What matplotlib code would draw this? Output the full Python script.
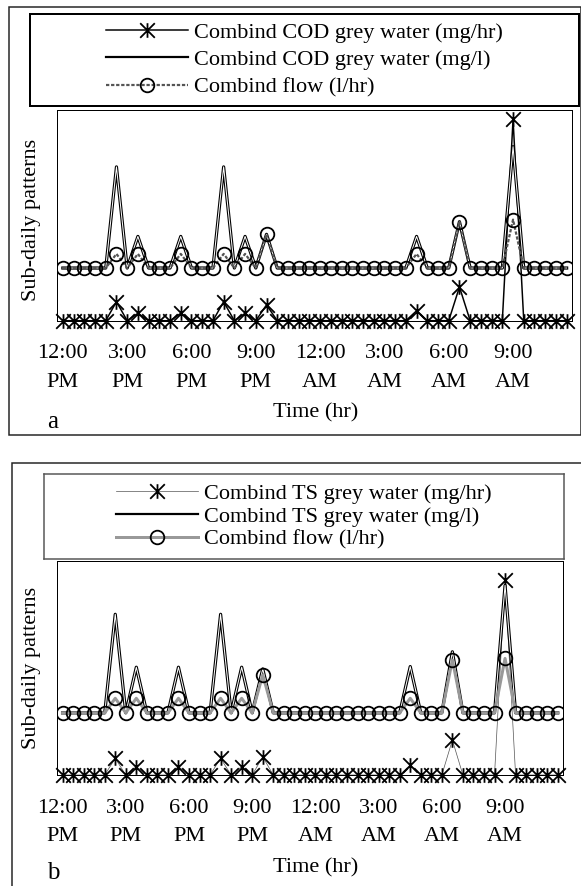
import matplotlib
matplotlib.use("Agg")
import matplotlib.pyplot as plt
from matplotlib.path import Path
from matplotlib.lines import Line2D
from matplotlib.patches import Rectangle

plt.rcParams['font.family'] = ['Liberation Serif', 'DejaVu Serif']

W, H, DPI = 581, 886, 100

# half-hour slots over one day, starting at noon
slots = list(range(48))
tick_idx = [0, 6, 12, 18, 24, 30, 36, 42]
tick_labels = ['12:00\nPM', '3:00\nPM', '6:00\nPM', '9:00\nPM',
               '12:00\nAM', '3:00\nAM', '6:00\nAM', '9:00\nAM']

# (a) COD
cod_mghr = [0, 0, 0, 0, 0, 9, 0, 3.5, 0, 0, 0, 3.5,
            0, 0, 0, 9, 0, 3.5, 0, 7.5, 0, 0, 0, 0,
            0, 0, 0, 0, 0, 0, 0, 0, 0, 4.7, 0, 0,
            0, 16, 0, 0, 0, 0, 95.5, 0, 0, 0, 0, 0]
cod_mgl = [25, 25, 25, 25, 25, 73, 25, 40, 25, 25, 25, 40,
           25, 25, 25, 73, 25, 40, 25, 41, 25, 25, 25, 25,
           25, 25, 25, 25, 25, 25, 25, 25, 25, 40, 25, 25,
           25, 47, 25, 25, 25, 25, 82.6, 25, 25, 25, 25, 25]
flow_a = [25, 25, 25, 25, 25, 31.7, 25, 31.7, 25, 25, 25, 31.7,
          25, 25, 25, 31.7, 25, 31.7, 25, 41, 25, 25, 25, 25,
          25, 25, 25, 25, 25, 25, 25, 25, 25, 31.7, 25, 25,
          25, 47, 25, 25, 25, 25, 48, 25, 25, 25, 25, 25]

# (b) TS
ts_mghr = [0, 0, 0, 0, 0, 7.8, 0, 3.9, 0, 0, 0, 3.9,
           0, 0, 0, 7.8, 0, 3.9, 0, 8.5, 0, 0, 0, 0,
           0, 0, 0, 0, 0, 0, 0, 0, 0, 4.7, 0, 0,
           0, 16.3, 0, 0, 0, 0, 91, 0, 0, 0, 0, 0]
ts_mgl = [29, 29, 29, 29, 29, 75, 29, 50.3, 29, 29, 29, 50.3,
          29, 29, 29, 75, 29, 50.3, 29, 49.5, 29, 29, 29, 29,
          29, 29, 29, 29, 29, 29, 29, 29, 29, 50.6, 29, 29,
          29, 57.5, 29, 29, 29, 29, 88.5, 29, 29, 29, 29, 29]
flow_b = [29, 29, 29, 29, 29, 35.8, 29, 35.8, 29, 29, 29, 35.8,
          29, 29, 29, 35.8, 29, 35.8, 29, 46.7, 29, 29, 29, 29,
          29, 29, 29, 29, 29, 29, 29, 29, 29, 35.8, 29, 29,
          29, 53.7, 29, 29, 29, 29, 54.4, 29, 29, 29, 29, 29]

# asterisk marker: vertical bar plus an X
star = Path([(0, -1), (0, 1), (-1, -1), (1, 1), (-1, 1), (1, -1)],
            [Path.MOVETO, Path.LINETO] * 3)

FS = 16
px = 72 / DPI  # one pixel in points
STAR_MS = 10.5
CIRC_MS = 9.8


def rect(l, t, r, b):
    return [l / W, 1 - b / H, (r - l) / W, (b - t) / H]


def panel(fig, plot_box, leg_box, border, leg_lw, leg_ec, labels,
          mghr, mgl, flow, hr_style, flow_style, letter, letter_y,
          ylab_y, xlab_y, labelspacing):
    # outer frame of the panel
    l, t, r, b = border
    fig.patches.append(Rectangle((l / W, 1 - b / H), (r - l) / W, (b - t) / H,
                                 transform=fig.transFigure, fill=False,
                                 lw=1.5 * px, ec='#222222'))

    ax = fig.add_axes(rect(*plot_box))
    ax.plot(slots, mghr, color=hr_style['color'], lw=hr_style['lw'],
            marker=star, ms=STAR_MS, mew=1.8 * px, mec='black', zorder=2,
            clip_on=False)
    # mg/l drawn as an outlined stroke
    ax.plot(slots, mgl, color='black', lw=3.2 * px, zorder=3,
            solid_joinstyle='round')
    ax.plot(slots, mgl, color='white', lw=1.0 * px, zorder=3.1)
    ax.plot(slots, flow, color=flow_style['color'], lw=flow_style['lw'],
            ls=flow_style['ls'], marker='o', ms=CIRC_MS, mfc='none',
            mec='black', mew=1.8 * px, zorder=4)
    ax.set_xlim(-0.5, 47.5)
    ax.set_ylim(0, 100)
    ax.set_yticks([])
    ax.set_xticks(tick_idx, tick_labels, fontsize=FS, linespacing=1.68)
    ax.tick_params(axis='x', length=0, pad=17)
    for s in ax.spines.values():
        s.set_linewidth(1.0 * px)

    fig.text(31.5 / W, 1 - ylab_y / H, 'Sub-daily patterns', rotation=90,
             fontsize=FS, ha='center', va='center')
    fig.text(316 / W, 1 - xlab_y / H, 'Time (hr)', fontsize=FS,
             ha='center', va='center')
    fig.text(47 / W, 1 - letter_y / H, letter, fontsize=FS + 2,
             ha='left', va='center')

    # legend sits in its own boxed strip above the plot
    lax = fig.add_axes(rect(*leg_box))
    lax.set_xticks([])
    lax.set_yticks([])
    lax.patch.set_alpha(0)
    for s in lax.spines.values():
        s.set_linewidth(leg_lw)
        s.set_edgecolor(leg_ec)
    handles = [
        Line2D([], [], color=hr_style['color'], lw=hr_style['lw'], marker=star,
               ms=STAR_MS, mew=1.8 * px, mec='black'),
        Line2D([], [], color='black', lw=2.2 * px),
        Line2D([], [], color=flow_style['color'], lw=flow_style['lw'],
               ls=flow_style['ls'], marker='o', ms=CIRC_MS, mfc='none',
               mec='black', mew=1.8 * px),
    ]
    lax.legend(handles, labels, loc='center', frameon=False, fontsize=FS,
               handlelength=3.7, handletextpad=0.25,
               labelspacing=labelspacing, borderpad=0, borderaxespad=0)


fig = plt.figure(figsize=(W / DPI, H / DPI), dpi=DPI)

panel(fig, plot_box=(57.5, 110, 572, 320.7), leg_box=(29.6, 14, 579, 106),
      border=(9.3, 6.7, 580.5, 435), leg_lw=2.0 * px, leg_ec='black',
      labels=['Combind COD grey water (mg/hr)',
              'Combind COD grey water (mg/l)',
              'Combind flow (l/hr)'],
      mghr=cod_mghr, mgl=cod_mgl, flow=flow_a,
      hr_style={'color': 'black', 'lw': 1.5 * px},
      flow_style={'color': '#555555', 'lw': 2.2 * px, 'ls': (0, (1.5, 0.8))},
      letter='a', letter_y=421.7, ylab_y=220, xlab_y=413, labelspacing=0.3)

panel(fig, plot_box=(57.3, 560.7, 563, 775), leg_box=(43.5, 474, 563.5, 559),
      border=(12, 463, 600, 900), leg_lw=1.5 * px, leg_ec='#555555',
      labels=['Combind TS grey water (mg/hr)',
              'Combind TS grey water (mg/l)',
              'Combind flow (l/hr)'],
      mghr=ts_mghr, mgl=ts_mgl, flow=flow_b,
      hr_style={'color': '#555555', 'lw': 0.7 * px},
      flow_style={'color': '#999999', 'lw': 3.0 * px, 'ls': '-'},
      letter='b', letter_y=873, ylab_y=668, xlab_y=868, labelspacing=0.11)

fig.savefig('out.png', dpi=DPI)
